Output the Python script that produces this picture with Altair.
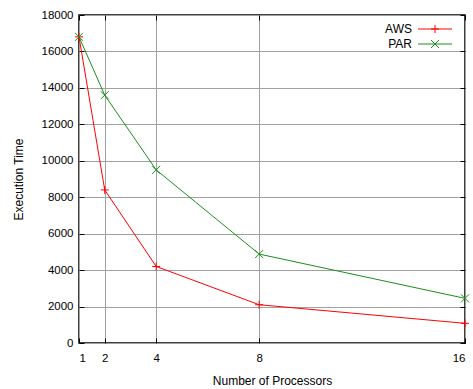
import altair as alt
import pandas as pd

# Execution time versus processor count for the two implementations
processors = [1, 2, 4, 8, 16]
aws_time = [16800, 8400, 4200, 2100, 1080]
par_time = [16800, 13600, 9500, 4880, 2450]

series_names = ["AWS", "PAR"]
series_colors = ["#ff0000", "#1a8f1a"]
# gnuplot-style thin point symbols: plus for AWS, cross for PAR
series_shapes = ["M-1,0L1,0M0,-1L0,1", "M-1,-1L1,1M-1,1L1,-1"]

x_ticks = [1, 2, 4, 8, 16]
y_ticks = list(range(0, 18001, 2000))

df = pd.DataFrame({
    "processors": processors * 2,
    "time": aws_time + par_time,
    "series": ["AWS"] * len(processors) + ["PAR"] * len(processors),
})

FONT = "Liberation Sans"
x_scale = alt.Scale(domain=[1, 16], nice=False, zero=False)
y_scale = alt.Scale(domain=[0, 18000], nice=False)
color_scale = alt.Scale(domain=series_names, range=series_colors)
shape_scale = alt.Scale(domain=series_names, range=series_shapes)

# Primary axes: labels, titles, grid, inward ticks
x_main = alt.X(
    "processors:Q", scale=x_scale,
    axis=alt.Axis(
        values=x_ticks, title="Number of Processors", format="d",
        grid=True, gridColor="#a0a0a0", gridWidth=1,
        domain=False, offset=-5, tickSize=5, tickColor="black", tickWidth=1,
        labelPadding=9, labelFont=FONT, labelFontSize=11.5, labelColor="black",
        titleFont=FONT, titleFontSize=12, titleFontWeight="normal",
        titleColor="black", titlePadding=12,
    ),
)
y_main = alt.Y(
    "time:Q", scale=y_scale,
    axis=alt.Axis(
        values=y_ticks, title="Execution Time", format="d",
        grid=True, gridColor="#a0a0a0", gridWidth=1,
        domain=False, offset=-5, tickSize=5, tickColor="black", tickWidth=1,
        labelPadding=6, labelFont=FONT, labelFontSize=11.5, labelColor="black",
        titleFont=FONT, titleFontSize=12, titleFontWeight="normal",
        titleColor="black", titlePadding=16,
    ),
)

# Mirrored tick marks on the top and right edges
x_mirror = alt.X("processors:Q", scale=x_scale, axis=alt.Axis(
    orient="top", values=x_ticks, labels=False, title=None, grid=False,
    domain=False, offset=-5, tickSize=5, tickColor="black", tickWidth=1))
y_mirror = alt.Y("time:Q", scale=y_scale, axis=alt.Axis(
    orient="right", values=y_ticks, labels=False, title=None, grid=False,
    domain=False, offset=-5, tickSize=5, tickColor="black", tickWidth=1))

lines = alt.Chart(df).mark_line(strokeWidth=1).encode(
    x=x_main, y=y_main,
    color=alt.Color("series:N", scale=color_scale, legend=None),
    detail="series:N",
)

points = alt.Chart(df).mark_point(size=64, filled=False, strokeWidth=1, opacity=1).encode(
    x=x_mirror, y=y_mirror,
    color=alt.Color("series:N", scale=color_scale, legend=None),
    shape=alt.Shape("series:N", scale=shape_scale, legend=None),
)

# Key in the top-right corner: label, then a line sample with its symbol
key_layers = []
for i, (name, color, shape) in enumerate(zip(series_names, series_colors, series_shapes)):
    row = pd.DataFrame({"series": [name]})
    ky = 14 + 15 * i
    key_layers.append(alt.Chart(row).mark_text(
        align="right", baseline="middle", font=FONT, fontSize=12, color="black"
    ).encode(text="series:N", x=alt.value(333), y=alt.value(ky)))
    key_layers.append(alt.Chart(row).mark_rule(color=color, strokeWidth=1).encode(
        x=alt.value(339), x2=alt.value(373), y=alt.value(ky)))
    key_layers.append(alt.Chart(row).mark_point(
        shape=shape, size=64, filled=False, strokeWidth=1, color=color, opacity=1
    ).encode(x=alt.value(356), y=alt.value(ky)))

chart = alt.layer(lines, points, *key_layers).resolve_axis(
    x="independent", y="independent"
).properties(
    width=386, height=328,
    autosize=alt.AutoSizeParams(type="none"),
    padding={"left": 79, "top": 15, "right": 8, "bottom": 46},
    background="white",
).configure_view(stroke="black", strokeWidth=1.5)

chart.save("out.html", embed_options={"renderer": "svg", "actions": False})
